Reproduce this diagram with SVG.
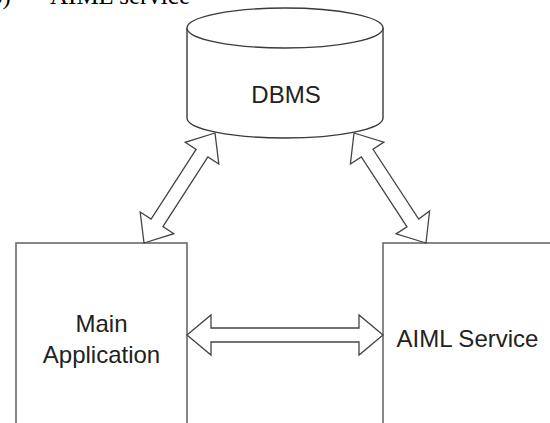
<svg xmlns="http://www.w3.org/2000/svg" width="550" height="423" viewBox="0 0 550 423">
<style>
.box{fill:#fff;stroke:#6a6a6a;stroke-width:1.6}
.db{fill:#fff;stroke:#3a3a3a;stroke-width:1.4}
.arr{fill:#fff;stroke:#444;stroke-width:1.3;stroke-linejoin:miter}
.lbl{font-family:"Liberation Sans",Arial,sans-serif;font-size:24px;fill:#222;text-anchor:middle}
.cap{font-family:"Liberation Serif","Times New Roman",serif;font-size:25px;fill:#000}
</style>
<rect width="550" height="423" fill="#fff"/>
<text class="cap" x="-10" y="4">3)</text>
<text class="cap" x="50" y="4">AIML service</text>
<g id="dbms">
<path class="db" d="M187,28 A98,20 0 0 1 383,28 L383,118 A98,20 0 0 1 187,118 Z"/>
<path class="db" fill="none" d="M187,28 A98,20 0 0 0 383,28"/>
<text class="lbl" x="286" y="103">DBMS</text>
</g>
<g id="main-application">
<rect class="box" x="16" y="243" width="171" height="200"/>
<text class="lbl" x="101.5" y="332">Main</text>
<text class="lbl" x="101.5" y="363">Application</text>
</g>
<g id="aiml-service">
<rect class="box" x="383" y="243" width="171" height="200"/>
<text class="lbl" x="467.5" y="347">AIML Service</text>
</g>
<g id="connectors">
<polygon class="arr" points="215,133 185.2,142.3 196.1,149.4 151.1,219 140.2,212 144,243 173.8,233.7 162.9,226.6 207.9,157 218.8,164"/>
<polygon class="arr" points="354,133 350.4,164 361.3,156.9 407,226.8 396.1,233.9 426,243 429.6,211 418.7,219.1 373,149.3 383.9,142.1"/>
<polygon class="arr" points="187,335 211,315 211,328 359,328 359,315 383,335 359,355 359,342 211,342 211,355"/>
</g>
</svg>
